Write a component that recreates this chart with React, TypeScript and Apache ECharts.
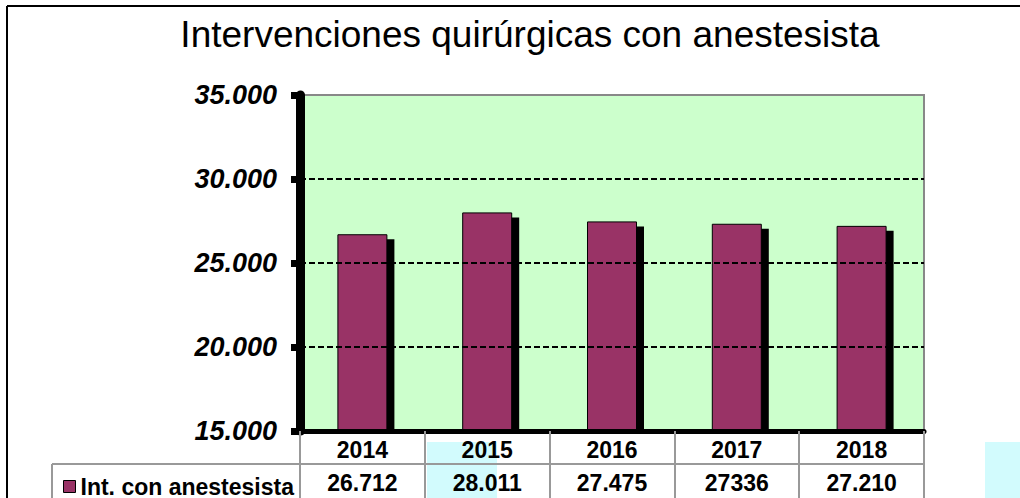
import React, { useEffect, useRef } from "react";
import * as echarts from "echarts";

const chartTitle = "Intervenciones quirúrgicas con anestesista";
const seriesName = "Int. con anestesista";
const years = ["2014", "2015", "2016", "2017", "2018"];
const interventions = [26712, 28011, 27475, 27336, 27210];
const tableLabels = ["26.712", "28.011", "27.475", "27336", "27.210"];
const yMin = 15000;
const yMax = 35000;
const yStep = 5000;

const fmt = (v: number) => String(v).replace(/\B(?=(\d{3})+(?!\d))/g, ".");

export default function App() {
  const ref = useRef<HTMLDivElement>(null);
  useEffect(() => {
    document.body.style.margin = "0";
    const chart = echarts.init(ref.current!, null, { renderer: "svg" });
    const font = "Arial, 'Liberation Sans', sans-serif";
    const gLeft = 300, gTop = 95, gW = 624, gH = 336;
    chart.setOption({
      animation: false,
      backgroundColor: "#ffffff",
      title: {
        text: chartTitle,
        left: 525,
        top: 11,
        textAlign: "center",
        textStyle: { fontFamily: font, fontSize: 37, fontWeight: "normal", color: "#000" },
      },
      legend: {
        data: [seriesName],
        left: 58,
        top: 470,
        itemWidth: 12,
        itemHeight: 12,
        icon: "rect",
        itemStyle: { borderColor: "#000", borderWidth: 1, shadowBlur: 0, shadowOffsetX: 0, shadowOffsetY: 0 },
        textStyle: { fontFamily: font, fontSize: 23, fontWeight: "bold", color: "#000" },
      },
      grid: {
        left: gLeft,
        top: gTop,
        width: gW,
        height: gH,
        show: true,
        backgroundColor: "#ccffcc",
        borderColor: "#888",
        borderWidth: 2,
      },
      xAxis: [
        {
          type: "category",
          data: years,
          position: "bottom",
          axisLine: { show: true, lineStyle: { color: "#000", width: 5 } },
          axisTick: { show: true, interval: 0, length: 68, lineStyle: { color: "#999", width: 2 } },
          axisLabel: { margin: 7, fontFamily: font, fontSize: 23, fontWeight: "bold", color: "#000" },
          splitLine: { show: false },
          z: 3,
        },
        {
          type: "category",
          data: tableLabels,
          position: "bottom",
          offset: 34,
          axisLine: { show: false },
          axisTick: { show: false },
          axisLabel: { margin: 6, fontFamily: font, fontSize: 23, fontWeight: "bold", color: "#000" },
          splitLine: { show: false },
        },
      ],
      yAxis: {
        type: "value",
        min: yMin,
        max: yMax,
        interval: yStep,
        axisLine: { show: true, lineStyle: { color: "#000", width: 9 } },
        axisTick: { show: true, length: 9, lineStyle: { color: "#000", width: 7 } },
        axisLabel: {
          margin: 23,
          formatter: (v: number) => fmt(v),
          fontFamily: font,
          fontSize: 27,
          fontWeight: "bold",
          fontStyle: "italic",
          color: "#000",
        },
        splitLine: {
          show: true,
          lineStyle: { color: ["#000", "#000", "#000", "#000", "#888"], width: 2, type: [6, 3] },
        },
        z: 3,
      },
      series: [
        {
          type: "custom",
          name: "shadow",
          xAxisIndex: 0,
          z: 1,
          silent: true,
          data: interventions.map((v, i) => [i, v]),
          encode: { x: 0, y: 1 },
          renderItem: (params: any, api: any) => {
            const i = api.value(0);
            const v = api.value(1);
            const top = api.coord([i, v]);
            const base = api.coord([i, yMin]);
            const w = 50;
            return {
              type: "rect",
              shape: { x: top[0] - w / 2 + 7, y: top[1] + 5, width: w, height: base[1] - top[1] - 5 },
              style: { fill: "#000" },
            };
          },
        },
        {
          type: "bar",
          name: seriesName,
          xAxisIndex: 0,
          z: 2,
          data: interventions,
          barWidth: 50,
          itemStyle: { color: "#993366", borderColor: "#000", borderWidth: 1 },
        },
      ],
      graphic: [
        { type: "rect", z: -10, shape: { x: 427, y: 442, width: 70, height: 56 }, style: { fill: "#d2fbfd" } },
        { type: "rect", z: -10, shape: { x: 985, y: 442, width: 35, height: 56 }, style: { fill: "#d2fbfd" } },
        { type: "line", shape: { x1: 7, y1: 6, x2: 1020, y2: 6 }, style: { stroke: "#000", lineWidth: 2 } },
        { type: "line", shape: { x1: 7, y1: 6, x2: 7, y2: 498 }, style: { stroke: "#000", lineWidth: 2 } },
        { type: "line", shape: { x1: 52, y1: 464, x2: 924, y2: 464 }, style: { stroke: "#999", lineWidth: 2 } },
        { type: "line", shape: { x1: 52, y1: 464, x2: 52, y2: 498 }, style: { stroke: "#999", lineWidth: 2 } },
      ],
    });
    return () => chart.dispose();
  }, []);
  return <div ref={ref} style={{ width: 1020, height: 498 }} />;
}
